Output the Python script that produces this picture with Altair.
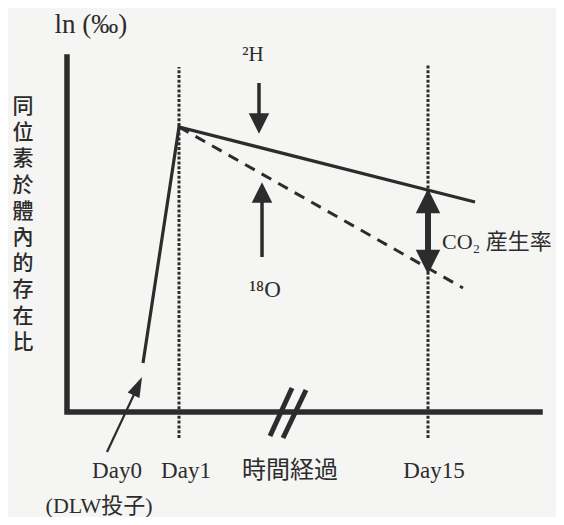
import altair as alt
import pandas as pd

# ---- data (schematic units: time axis 0..100, ln axis 0..100) ----
axes_x = [0, 0, 100]
axes_y = [100, 0, 0]
axes_o = [0, 1, 2]

h2_x = [16.07, 23.68, 86.26]          # solid line (2H)
h2_y = [13.80, 80.28, 59.15]
o18_x = [23.68, 83.72]                # dashed line (18O)
o18_y = [80.28, 34.93]

day_x = [23.68, 76.32]                # dotted guides at Day1, Day15
day_y0 = [-7.32, -7.32]
day_y1 = [97.18, 97.75]

brk_x = [47.57, 50.53]                # axis break "//"
brk_y = [6.76, 6.20]
brk_x2 = [42.92, 45.67]
brk_y2 = [-6.76, -7.32]

arrow_h2 = dict(x=40.59, y=92.68, y2=83.6, head=81.27)
arrow_o18 = dict(x=41.23, y=43.66, y2=60.8, head=61.83)
arrow_co2 = dict(x=76.32, y=43.38, y2=58.31, top=59.44, bot=42.25)
arrow_d0 = dict(x=8.46, y=-11.27, x2=15.01, y2=7.32, hx=14.97, hy=7.30)

bottom_labels = ["Day0", "Day1", "Day15"]
bottom_x = [10.57, 25.16, 77.59]
bottom_y = [-16.62, -16.62, -16.62]
vertical_label = "同\n位\n素\n於\n體\n內\n的\n存\n在\n比"

INK = "#2c2c2c"
BG = "#f5f5f3"
SERIF = "Liberation Serif"
CJK = "Noto Sans CJK TC"

xs = alt.Scale(domain=[-12.47, 103.38], nice=False, zero=False)
ys = alt.Scale(domain=[-29.58, 113.80], nice=False, zero=False)


def X(f="x"):
    return alt.X(f"{f}:Q", scale=xs, axis=None)


def Y(f="y"):
    return alt.Y(f"{f}:Q", scale=ys, axis=None)


def base(df):
    return alt.Chart(pd.DataFrame(df))


axes = base(dict(x=axes_x, y=axes_y, o=axes_o)).mark_line(
    color=INK, strokeWidth=5.5, strokeJoin="miter", strokeCap="square"
).encode(x=X(), y=Y(), order="o:Q")

dotted = base(dict(x=day_x, y=day_y0, y2=day_y1)).mark_rule(
    color=INK, strokeWidth=3, strokeDash=[3, 1.8]
).encode(x=X(), y=Y(), y2="y2:Q")

solid = base(dict(x=h2_x, y=h2_y)).mark_line(
    color=INK, strokeWidth=3.2, strokeJoin="miter"
).encode(x=X(), y=Y())

dashed = base(dict(x=o18_x, y=o18_y)).mark_line(
    color=INK, strokeWidth=3, strokeDash=[11, 8]
).encode(x=X(), y=Y())

brk = base(dict(x=brk_x, y=brk_y, x2=brk_x2, y2=brk_y2)).mark_rule(
    color=INK, strokeWidth=5
).encode(x=X(), y=Y(), x2="x2:Q", y2="y2:Q")

TRI = "M0,-1L-1,1L1,1Z"
TRI_N = "M0,-1L-0.65,1L0.65,1Z"

shafts = base(dict(
    x=[arrow_h2["x"], arrow_o18["x"]],
    y=[arrow_h2["y"], arrow_o18["y"]],
    y2=[arrow_h2["y2"], arrow_o18["y2"]],
)).mark_rule(color=INK, strokeWidth=3.5).encode(x=X(), y=Y(), y2="y2:Q")

co2_shaft = base(dict(x=[arrow_co2["x"]], y=[arrow_co2["y"]], y2=[arrow_co2["y2"]])).mark_rule(
    color=INK, strokeWidth=6
).encode(x=X(), y=Y(), y2="y2:Q")

head_h2 = base(dict(x=[arrow_h2["x"]], y=[arrow_h2["head"]])).mark_point(
    shape=TRI, size=420, filled=True, opacity=1, color=INK, angle=180
).encode(x=X(), y=Y())

head_o18 = base(dict(x=[arrow_o18["x"]], y=[arrow_o18["head"]])).mark_point(
    shape=TRI, size=420, filled=True, opacity=1, color=INK
).encode(x=X(), y=Y())

head_co2_up = base(dict(x=[arrow_co2["x"]], y=[arrow_co2["top"]])).mark_point(
    shape=TRI, size=600, filled=True, opacity=1, color=INK
).encode(x=X(), y=Y())

head_co2_dn = base(dict(x=[arrow_co2["x"]], y=[arrow_co2["bot"]])).mark_point(
    shape=TRI, size=600, filled=True, opacity=1, color=INK, angle=180
).encode(x=X(), y=Y())

d0_shaft = base(dict(x=[arrow_d0["x"]], y=[arrow_d0["y"]], x2=[arrow_d0["x2"]], y2=[arrow_d0["y2"]])).mark_rule(
    color=INK, strokeWidth=2.2
).encode(x=X(), y=Y(), x2="x2:Q", y2="y2:Q")

d0_head = base(dict(x=[arrow_d0["hx"]], y=[arrow_d0["hy"]])).mark_point(
    shape=TRI_N, size=400, filled=True, opacity=1, color=INK, angle=25
).encode(x=X(), y=Y())


def label(text, x, y, font, size, align="center", **kw):
    return base(dict(t=[text], x=[x], y=[y])).mark_text(
        font=font, fontSize=size, color=INK, align=align, baseline="middle", **kw
    ).encode(x=X(), y=Y(), text="t:N")


t_ln = label("ln (‰)", 5.07, 109.0, SERIF, 27)
t_vert = base(dict(t=[vertical_label], x=[-9.30], y=[85.92])).mark_text(
    font=CJK, fontSize=21, color=INK, align="center", baseline="middle",
    lineBreak="\n", lineHeight=26.2, fontWeight=500
).encode(x=X(), y=Y(), text="t:N")
t_h2 = label("²H", 39.32, 100.56, SERIF, 21)
t_o18 = label("¹⁸O", 41.86, 34.37, SERIF, 23)
t_co2 = label("CO₂ 産生率", 79.28, 47.89, f"{SERIF}, Noto Sans CJK JP", 22, align="left")
t_days = base(dict(t=bottom_labels, x=bottom_x, y=bottom_y)).mark_text(
    font=SERIF, fontSize=23, color=INK, align="center", baseline="middle"
).encode(x=X(), y=Y(), text="t:N")
t_time = label("時間経過", 47.15, -16.62, "Noto Sans CJK JP", 24)
t_dlw = label("(DLW投子)", 6.8, -26.48, f"{SERIF}, {CJK}", 22)

chart = alt.layer(
    dotted, axes, solid, dashed, brk, shafts, co2_shaft,
    head_h2, head_o18, head_co2_up, head_co2_dn, d0_shaft, d0_head,
    t_ln, t_vert, t_h2, t_o18, t_co2, t_days, t_time, t_dlw,
).properties(
    width=548, height=509, padding=0, background=BG,
    autosize=alt.AutoSizeParams(type="none"),
).configure_view(stroke=None)

chart.save("out.html", embed_options={"renderer": "svg", "actions": False})
